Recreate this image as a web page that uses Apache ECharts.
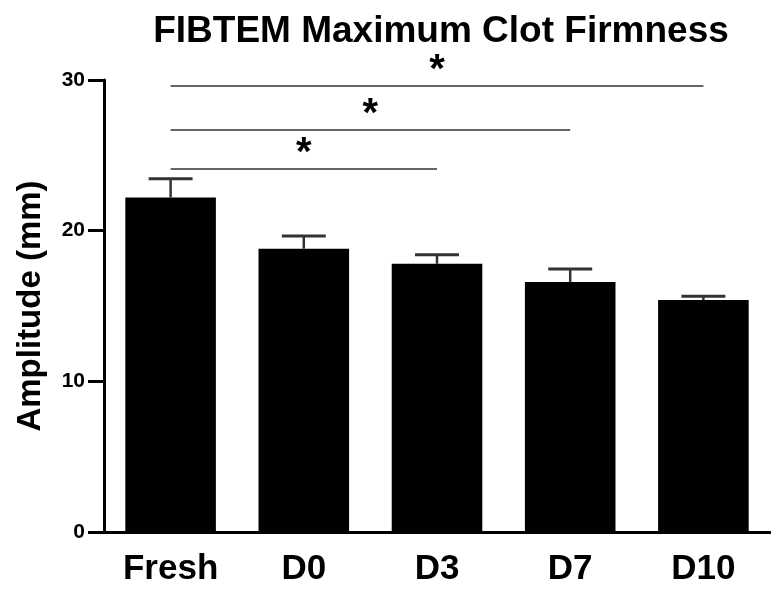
<!DOCTYPE html>
<html>
<head>
<meta charset="utf-8">
<script src="https://cdn.jsdelivr.net/npm/echarts@6/dist/echarts.min.js"></script>
<style>
  html, body { margin: 0; padding: 0; background: #fff; }
  #chart { width: 771px; height: 594px; }
</style>
</head>
<body>
<div id="chart"></div>
<script>
// data
const groups = ['Fresh', 'D0', 'D3', 'D7', 'D10'];
const means = [22.2, 18.8, 17.8, 16.6, 15.4];
const sems = [1.25, 0.85, 0.6, 0.85, 0.25];
const yTicks = [0, 10, 20, 30];
// significance brackets: from, to, height, label
const sigFrom = ['Fresh', 'Fresh', 'Fresh'];
const sigTo = ['D3', 'D7', 'D10'];
const sigHeight = [24.1, 26.7, 29.6];
const sigLabel = ['*', '*', '*'];

const FONT = "'Liberation Sans', Arial, sans-serif";

let chart = echarts.init(document.getElementById('chart'));

const errData = groups.map(function (g, i) {
  return [i, means[i], means[i] + sems[i]];
});

const sigLines = sigFrom.map(function (f, i) {
  return [
    { coord: [f, sigHeight[i]], label: { formatter: sigLabel[i] } },
    { coord: [sigTo[i], sigHeight[i]] }
  ];
});

chart.setOption({
  animation: false,
  title: {
    text: 'FIBTEM Maximum Clot Firmness',
    left: 436,
    top: 8,
    textAlign: 'center',
    textStyle: { fontFamily: FONT, fontSize: 37, fontWeight: 'bold', color: '#000' }
  },
  grid: {
    left: 104,
    right: 1,
    top: 80,
    bottom: 62,
    containLabel: false,
    outerBoundsMode: 'none'
  },
  xAxis: {
    type: 'category',
    data: groups,
    axisLine: { lineStyle: { color: '#000', width: 3 } },
    axisTick: { alignWithLabel: true, length: 14, lineStyle: { color: '#000', width: 3 } },
    axisLabel: { margin: 20, fontFamily: FONT, fontSize: 35, fontWeight: 'bold', color: '#000' }
  },
  yAxis: {
    type: 'value',
    min: yTicks[0],
    max: yTicks[yTicks.length - 1],
    interval: 10,
    name: 'Amplitude (mm)',
    nameLocation: 'middle',
    nameGap: 57,
    nameTextStyle: { fontFamily: FONT, fontSize: 33, fontWeight: 'bold', color: '#000' },
    splitLine: { show: false },
    axisLine: { show: true, lineStyle: { color: '#000', width: 3 } },
    axisTick: { show: true, length: 16, lineStyle: { color: '#000', width: 3 } },
    axisLabel: { margin: 19, fontFamily: FONT, fontSize: 21, fontWeight: 'bold', color: '#000' }
  },
  series: [
    {
      type: 'bar',
      data: means,
      barCategoryGap: '32%',
      itemStyle: { color: '#000' },
      markLine: {
        silent: true,
        symbol: ['none', 'none'],
        lineStyle: { color: '#333', width: 1.5, type: 'solid' },
        label: {
          show: true,
          position: 'middle',
          distance: -5,
          fontFamily: FONT,
          fontSize: 40,
          fontWeight: 'bold',
          color: '#000'
        },
        data: sigLines
      }
    },
    {
      type: 'custom',
      data: errData,
      z: 3,
      renderItem: function (params, api) {
        const x = api.value(0);
        const lo = api.coord([x, api.value(1)]);
        const hi = api.coord([x, api.value(2)]);
        const half = api.size([1, 0])[0] * 0.165;
        const style = { stroke: '#333', lineWidth: 2.5 };
        return {
          type: 'group',
          children: [
            { type: 'line', shape: { x1: lo[0], y1: lo[1], x2: hi[0], y2: hi[1] }, style: style },
            { type: 'line', shape: { x1: hi[0] - half, y1: hi[1], x2: hi[0] + half, y2: hi[1] }, style: { stroke: '#333', lineWidth: 3 } }
          ]
        };
      }
    }
  ]
});
</script>
</body>
</html>
